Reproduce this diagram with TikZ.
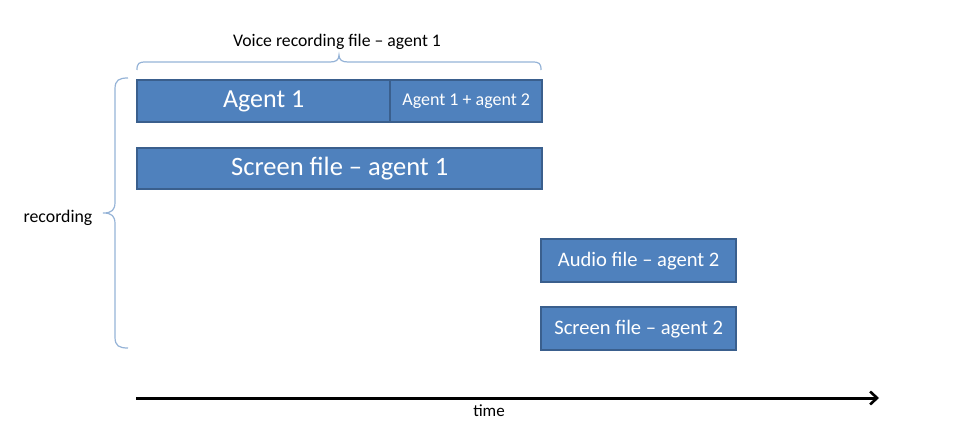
\documentclass[tikz,border=0pt]{standalone}
\usepackage{fontspec}
\setmainfont{Carlito}
\usetikzlibrary{arrows.meta}
\definecolor{boxfill}{HTML}{4F81BD}
\definecolor{boxline}{HTML}{3A5F8D}
\definecolor{bracecol}{HTML}{95B3D7}
\begin{document}
\begin{tikzpicture}[x=1pt,y=-1pt,
  bar/.style={draw=boxline,line width=2.4pt,fill=boxfill,text=white,inner sep=0pt,anchor=north west,minimum height=42pt},
  bracepath/.style={draw=bracecol,line width=1.2pt},
  lbl/.style={text=black,inner sep=0pt}]
\useasboundingbox (0,0) rectangle (969,428);
% bars
\node[bar,minimum width=253pt,font=\fontsize{26}{28}\selectfont] (a1) at (136,79) {Agent 1};
\node[bar,minimum width=152pt,font=\fontsize{18}{20}\selectfont] (a12) at (389,79) {Agent 1 + agent 2};
\node[bar,minimum width=405pt,minimum height=41pt,font=\fontsize{26.5}{28}\selectfont] (s1) at (136,147) {Screen file -- agent 1};
\node[bar,minimum width=195pt,minimum height=43pt,font=\fontsize{20.6}{22}\selectfont] (au2) at (540,238) {Audio file -- agent 2};
\node[bar,minimum width=195pt,minimum height=43pt,font=\fontsize{20.6}{22}\selectfont] (s2) at (540,306) {Screen file -- agent 2};
% top brace
\draw[bracepath] (137,70) .. controls (137,63) and (139,62) .. (146,62) -- (330,62)
  .. controls (336,62) and (339,60) .. (339,55)
  .. controls (339,60) and (342,62) .. (348,62) -- (532,62)
  .. controls (539,62) and (541,63) .. (541,70);
\node[lbl,font=\fontsize{17.7}{19}\selectfont] (voice) at (337,42) {Voice recording file -- agent 1};
% left brace
\draw[bracepath] (128,78) .. controls (119,78) and (115,80) .. (115,89) -- (115,202)
  .. controls (115,210) and (112,213) .. (103,213)
  .. controls (112,213) and (115,216) .. (115,224) -- (115,337)
  .. controls (115,346) and (119,348) .. (128,348);
\node[lbl,font=\fontsize{17.8}{19}\selectfont] (rec) at (58,218) {recording};
% time axis
\coordinate (t0) at (136,398);
\coordinate (t1) at (879,398);
\draw[line width=3pt,-{Straight Barb[length=7pt,width=13pt,line width=2.6pt]}] (t0) -- (t1);
\node[lbl,font=\fontsize{17}{18}\selectfont] (time) at (489,411) {time};
\end{tikzpicture}
\end{document}
